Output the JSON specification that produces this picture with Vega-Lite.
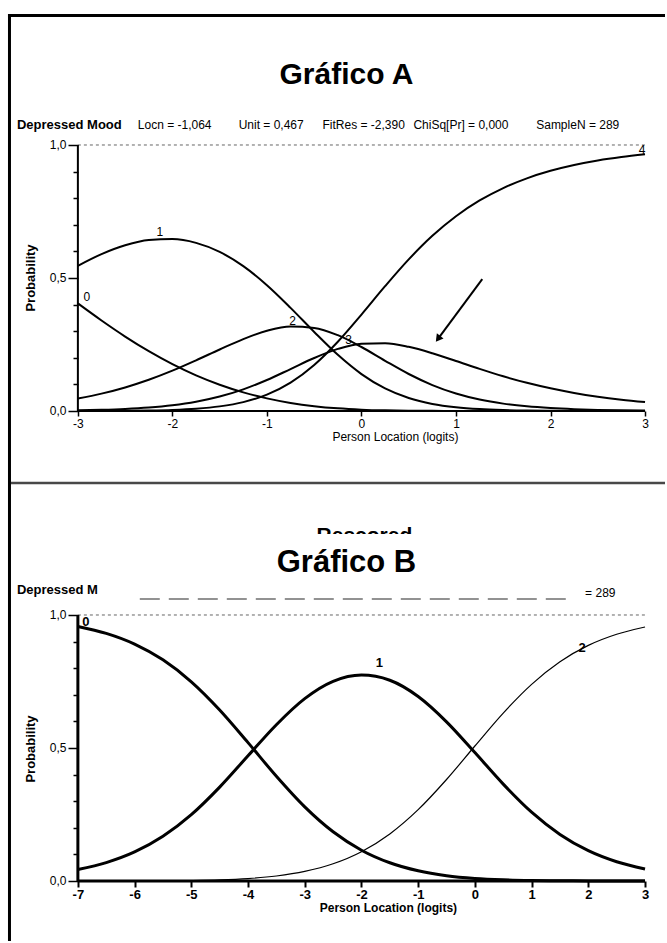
{
  "$schema": "https://vega.github.io/schema/vega-lite/v6.json",
  "width": 667,
  "height": 943,
  "autosize": {"type": "fit", "contains": "padding"},
  "padding": 0,
  "background": "white",
  "config": {
    "view": {"stroke": null},
    "text": {"font": "Liberation Sans", "color": "black"},
    "axis": {"labelFont": "Liberation Sans", "labelColor": "black", "tickColor": "black", "grid": false, "domain": false, "title": null, "labelOverlap": false, "labelFlush": false}
  },
  "datasets": {
    "curvesA": [
      {"x": -3.0, "c0": 0.4044, "c1": 0.5458, "c2": 0.0471, "c3": 0.0025, "c4": 0.0002},
      {"x": -2.75, "c0": 0.3402, "c1": 0.5897, "c2": 0.0653, "c3": 0.0044, "c4": 0.0004},
      {"x": -2.5, "c0": 0.2799, "c1": 0.6229, "c2": 0.0886, "c3": 0.0076, "c4": 0.0009},
      {"x": -2.25, "c0": 0.2249, "c1": 0.6427, "c2": 0.1174, "c3": 0.013, "c4": 0.002},
      {"x": -2.0, "c0": 0.1762, "c1": 0.6464, "c2": 0.1516, "c3": 0.0216, "c4": 0.0042},
      {"x": -1.75, "c0": 0.1341, "c1": 0.6321, "c2": 0.1904, "c3": 0.0348, "c4": 0.0087},
      {"x": -1.5, "c0": 0.0989, "c1": 0.5982, "c2": 0.2313, "c3": 0.0543, "c4": 0.0174},
      {"x": -1.25, "c0": 0.0701, "c1": 0.5446, "c2": 0.2704, "c3": 0.0815, "c4": 0.0334},
      {"x": -1.0, "c0": 0.0474, "c1": 0.4729, "c2": 0.3015, "c3": 0.1166, "c4": 0.0615},
      {"x": -0.75, "c0": 0.0303, "c1": 0.3878, "c2": 0.3175, "c3": 0.1577, "c4": 0.1067},
      {"x": -0.5, "c0": 0.0181, "c1": 0.2972, "c2": 0.3124, "c3": 0.1992, "c4": 0.1732},
      {"x": -0.25, "c0": 0.01, "c1": 0.2111, "c2": 0.285, "c3": 0.2334, "c4": 0.2605},
      {"x": 0.0, "c0": 0.0051, "c1": 0.1388, "c2": 0.2406, "c3": 0.2529, "c4": 0.3625},
      {"x": 0.25, "c0": 0.0024, "c1": 0.0848, "c2": 0.1888, "c3": 0.2549, "c4": 0.4691},
      {"x": 0.5, "c0": 0.0011, "c1": 0.0487, "c2": 0.1391, "c3": 0.2412, "c4": 0.5699},
      {"x": 0.75, "c0": 0.0005, "c1": 0.0266, "c2": 0.0975, "c3": 0.217, "c4": 0.6585},
      {"x": 1.0, "c0": 0.0002, "c1": 0.014, "c2": 0.0658, "c3": 0.1879, "c4": 0.7322},
      {"x": 1.25, "c0": 0.0001, "c1": 0.0071, "c2": 0.0431, "c3": 0.1582, "c4": 0.7915},
      {"x": 1.5, "c0": 0.0, "c1": 0.0036, "c2": 0.0277, "c3": 0.1305, "c4": 0.8382},
      {"x": 1.75, "c0": 0.0, "c1": 0.0018, "c2": 0.0175, "c3": 0.106, "c4": 0.8747},
      {"x": 2.0, "c0": 0.0, "c1": 0.0009, "c2": 0.011, "c3": 0.0853, "c4": 0.9029},
      {"x": 2.25, "c0": 0.0, "c1": 0.0004, "c2": 0.0068, "c3": 0.068, "c4": 0.9248},
      {"x": 2.5, "c0": 0.0, "c1": 0.0002, "c2": 0.0042, "c3": 0.0539, "c4": 0.9417},
      {"x": 2.75, "c0": 0.0, "c1": 0.0001, "c2": 0.0026, "c3": 0.0426, "c4": 0.9547},
      {"x": 3.0, "c0": 0.0, "c1": 0.0, "c2": 0.0016, "c3": 0.0335, "c4": 0.9649}
    ],
    "curvesB": [
      {"x": -7.0, "c0": 0.9569, "c1": 0.0431, "c2": 0.0},
      {"x": -6.5, "c0": 0.9308, "c1": 0.0691, "c2": 0.0001},
      {"x": -6.0, "c0": 0.8906, "c1": 0.1091, "c2": 0.0003},
      {"x": -5.5, "c0": 0.8314, "c1": 0.1679, "c2": 0.0007},
      {"x": -5.0, "c0": 0.7489, "c1": 0.2493, "c2": 0.0018},
      {"x": -4.5, "c0": 0.643, "c1": 0.3529, "c2": 0.0041},
      {"x": -4.0, "c0": 0.5202, "c1": 0.4707, "c2": 0.0091},
      {"x": -3.5, "c0": 0.3938, "c1": 0.5875, "c2": 0.0187},
      {"x": -3.0, "c0": 0.2787, "c1": 0.6854, "c2": 0.0359},
      {"x": -2.5, "c0": 0.185, "c1": 0.7503, "c2": 0.0647},
      {"x": -2.0, "c0": 0.1158, "c1": 0.7741, "c2": 0.1101},
      {"x": -1.5, "c0": 0.0685, "c1": 0.7546, "c2": 0.177},
      {"x": -1.0, "c0": 0.0382, "c1": 0.6936, "c2": 0.2682},
      {"x": -0.5, "c0": 0.02, "c1": 0.5984, "c2": 0.3816},
      {"x": 0.0, "c0": 0.0098, "c1": 0.4827, "c2": 0.5075},
      {"x": 0.5, "c0": 0.0045, "c1": 0.3642, "c2": 0.6313},
      {"x": 1.0, "c0": 0.0019, "c1": 0.2587, "c2": 0.7393},
      {"x": 1.5, "c0": 0.0008, "c1": 0.175, "c2": 0.8243},
      {"x": 2.0, "c0": 0.0003, "c1": 0.114, "c2": 0.8857},
      {"x": 2.5, "c0": 0.0001, "c1": 0.0724, "c2": 0.9275},
      {"x": 3.0, "c0": 0.0, "c1": 0.0452, "c2": 0.9548}
    ],
    "dashA": [{"x": -3, "y": 1, "x2": 3, "y2": 1}],
    "axisA": [{"x": -3, "y": 0, "x2": 3, "y2": 0}, {"x": -3, "y": 0, "x2": -3, "y2": 1}],
    "frame": [
      {"x": -3.7236, "y": 1.4925, "x2": -3.7236, "y2": -1.9925},
      {"x": -3.7394, "y": 1.4868, "x2": 3.2113, "y2": 1.4868}
    ],
    "sep": [{"x": -3.7077, "y": -0.2707, "x2": 3.2113, "y2": -0.2707}],
    "arrowA": [{"x": 1.278, "y": 0.496, "x2": 0.8176, "y2": 0.2752}],
    "headA": [{"x": 0.8176, "y": 0.2752}],
    "titleA": [{"x": -0.1584, "y": 1.2632, "label": "Gráfico A"}],
    "hdrBoldA": [{"x": -3.6444, "y": 1.0752, "label": "Depressed Mood"}],
    "hdrA": [
      {"x": -2.3662, "y": 1.0752, "label": "Locn = -1,064"},
      {"x": -1.2993, "y": 1.0752, "label": "Unit = 0,467"},
      {"x": -0.412, "y": 1.0752, "label": "FitRes = -2,390"},
      {"x": 0.5493, "y": 1.0752, "label": "ChiSq[Pr] = 0,000"},
      {"x": 1.8486, "y": 1.0752, "label": "SampleN = 289"}
    ],
    "labA": [
      {"x": -2.9049, "y": 0.4286, "label": "0"},
      {"x": -2.1338, "y": 0.6729, "label": "1"},
      {"x": -0.7289, "y": 0.3383, "label": "2"},
      {"x": -0.1373, "y": 0.2669, "label": "3"},
      {"x": 2.9683, "y": 0.9812, "label": "4"}
    ],
    "ytA": [{"x": -3.4965, "y": 0.5, "label": "Probability"}],
    "xtA": [{"x": 0.3592, "y": -0.0977, "label": "Person Location (logits)"}],
    "dashB": [{"x": -7, "y": 1, "x2": 3, "y2": 1}],
    "axisB": [{"x": -7, "y": 0, "x2": 3, "y2": 0}, {"x": -7, "y": 0, "x2": -7, "y2": 1}],
    "fragB": [{"x": -5.9085, "y": 1.0602, "x2": 1.6268, "y2": 1.0602}],
    "rescB": [{"x": -1.9472, "y": 1.2744, "label": "Rescored"}],
    "maskB": [{"x": -3.2676, "y": 1.3045, "x2": -0.6268, "y2": 1.2556}],
    "titleB": [{"x": -2.2641, "y": 1.1955, "label": "Gráfico B"}],
    "hdrBoldB": [{"x": -8.0739, "y": 1.094, "label": "Depressed M"}],
    "hdrB": [{"x": 1.9437, "y": 1.0827, "label": "= 289"}],
    "labB": [
      {"x": -6.8592, "y": 0.9737, "label": "0"},
      {"x": -1.683, "y": 0.8195, "label": "1"},
      {"x": 1.8908, "y": 0.8759, "label": "2"}
    ],
    "ytB": [{"x": -7.8275, "y": 0.4962, "label": "Probability"}],
    "xtB": [{"x": -1.5246, "y": -0.1015, "label": "Person Location (logits)"}]
  },
  "layer": [
    {
      "encoding": {
        "x": {"field": "x", "type": "quantitative",
          "scale": {"domain": [-3.8239, 3.2218], "nice": false, "zero": false},
          "axis": {"orient": "bottom", "offset": -532, "values": [-3, -2, -1, 0, 1, 2, 3], "tickSize": 5, "tickWidth": 1.5, "labelFontSize": 12, "labelPadding": 2,
            "labelExpr": "datum.value < 0 ? '-' + (-datum.value) : '' + datum.value"}},
        "y": {"field": "y", "type": "quantitative",
          "scale": {"domain": [-2.0, 1.5451], "nice": false, "zero": false},
          "axis": {"orient": "left", "offset": -78, "values": [0, 0.1, 0.2, 0.3, 0.4, 0.5, 0.6, 0.7, 0.8, 0.9, 1],
            "tickSize": {"condition": {"test": "datum.value == 0 || datum.value == 0.5 || datum.value == 1", "value": 10}, "value": 5},
            "tickWidth": 1.5, "labelFontSize": 12, "labelPadding": 2,
            "labelExpr": "datum.value == 0 ? '0,0' : (datum.value == 0.5 ? '0,5' : (datum.value == 1 ? '1,0' : ''))"}}
      },
      "layer": [
        {"data": {"name": "dashA"}, "mark": {"type": "rule", "color": "#666666", "strokeWidth": 1, "strokeDash": [3, 3]},
          "encoding": {"x2": {"field": "x2"}, "y2": {"field": "y2"}}},
        {"data": {"name": "curvesA"}, "transform": [{"fold": ["c0", "c1", "c2", "c3", "c4"], "as": ["cat", "y"]}],
          "mark": {"type": "line", "color": "black", "strokeWidth": 2, "interpolate": "monotone"},
          "encoding": {"detail": {"field": "cat"}}},
        {"data": {"name": "axisA"}, "mark": {"type": "rule", "color": "black", "strokeWidth": 2},
          "encoding": {"x2": {"field": "x2"}, "y2": {"field": "y2"}}},
        {"data": {"name": "frame"}, "mark": {"type": "rule", "color": "black", "strokeWidth": 3},
          "encoding": {"x2": {"field": "x2"}, "y2": {"field": "y2"}}},
        {"data": {"name": "sep"}, "mark": {"type": "rule", "color": "#484848", "strokeWidth": 2.5},
          "encoding": {"x2": {"field": "x2"}, "y2": {"field": "y2"}}},
        {"data": {"name": "arrowA"}, "mark": {"type": "rule", "color": "black", "strokeWidth": 2},
          "encoding": {"x2": {"field": "x2"}, "y2": {"field": "y2"}}},
        {"data": {"name": "headA"}, "mark": {"type": "point", "shape": "triangle", "filled": true, "color": "black", "opacity": 1, "size": 70, "angle": 217}},
        {"data": {"name": "titleA"}, "mark": {"type": "text", "fontSize": 30, "fontWeight": "bold", "align": "center", "baseline": "middle"},
          "encoding": {"text": {"field": "label"}}},
        {"data": {"name": "hdrBoldA"}, "mark": {"type": "text", "fontSize": 13, "fontWeight": "bold", "align": "left", "baseline": "middle"},
          "encoding": {"text": {"field": "label"}}},
        {"data": {"name": "hdrA"}, "mark": {"type": "text", "fontSize": 12, "align": "left", "baseline": "middle"},
          "encoding": {"text": {"field": "label"}}},
        {"data": {"name": "labA"}, "mark": {"type": "text", "fontSize": 12, "align": "center", "baseline": "middle"},
          "encoding": {"text": {"field": "label"}}},
        {"data": {"name": "ytA"}, "mark": {"type": "text", "fontSize": 13, "fontWeight": "bold", "align": "center", "baseline": "middle", "angle": 270},
          "encoding": {"text": {"field": "label"}}},
        {"data": {"name": "xtA"}, "mark": {"type": "text", "fontSize": 12, "align": "center", "baseline": "middle"},
          "encoding": {"text": {"field": "label"}}}
      ]
    },
    {
      "encoding": {
        "x": {"field": "x", "type": "quantitative",
          "scale": {"domain": [-8.3732, 3.3697], "nice": false, "zero": false},
          "axis": {"orient": "bottom", "offset": -62, "values": [-7, -6, -5, -4, -3, -2, -1, 0, 1, 2, 3], "tickSize": 6, "tickWidth": 2, "labelFontSize": 13, "labelFontWeight": "bold", "labelPadding": 1,
            "labelExpr": "datum.value < 0 ? '-' + (-datum.value) : '' + datum.value"}},
        "y": {"field": "y", "type": "quantitative",
          "scale": {"domain": [-0.2331, 3.312], "nice": false, "zero": false},
          "axis": {"orient": "left", "offset": -78, "values": [0, 0.1, 0.2, 0.3, 0.4, 0.5, 0.6, 0.7, 0.8, 0.9, 1],
            "tickSize": {"condition": {"test": "datum.value == 0 || datum.value == 0.5 || datum.value == 1", "value": 10}, "value": 5},
            "tickWidth": 1.5, "labelFontSize": 12, "labelPadding": 2,
            "labelExpr": "datum.value == 0 ? '0,0' : (datum.value == 0.5 ? '0,5' : (datum.value == 1 ? '1,0' : ''))"}}
      },
      "layer": [
        {"data": {"name": "dashB"}, "mark": {"type": "rule", "color": "#666666", "strokeWidth": 1, "strokeDash": [3, 3]},
          "encoding": {"x2": {"field": "x2"}, "y2": {"field": "y2"}}},
        {"data": {"name": "curvesB"}, "transform": [{"fold": ["c0", "c1"], "as": ["cat", "y"]}],
          "mark": {"type": "line", "color": "black", "strokeWidth": 3, "interpolate": "monotone"},
          "encoding": {"detail": {"field": "cat"}}},
        {"data": {"name": "curvesB"}, "transform": [{"fold": ["c2"], "as": ["cat", "y"]}],
          "mark": {"type": "line", "color": "black", "strokeWidth": 1.2, "interpolate": "monotone"},
          "encoding": {"detail": {"field": "cat"}}},
        {"data": {"name": "axisB"}, "mark": {"type": "rule", "color": "black", "strokeWidth": 3},
          "encoding": {"x2": {"field": "x2"}, "y2": {"field": "y2"}}},
        {"data": {"name": "fragB"}, "mark": {"type": "rule", "color": "#6f6f6f", "strokeWidth": 1.5, "strokeDash": [20, 9]},
          "encoding": {"x2": {"field": "x2"}, "y2": {"field": "y2"}}},
        {"data": {"name": "rescB"}, "mark": {"type": "text", "fontSize": 21, "fontWeight": "bold", "align": "center", "baseline": "alphabetic"},
          "encoding": {"text": {"field": "label"}}},
        {"data": {"name": "maskB"}, "mark": {"type": "rect", "color": "white", "opacity": 1},
          "encoding": {"x2": {"field": "x2"}, "y2": {"field": "y2"}}},
        {"data": {"name": "titleB"}, "mark": {"type": "text", "fontSize": 31, "fontWeight": "bold", "align": "center", "baseline": "middle"},
          "encoding": {"text": {"field": "label"}}},
        {"data": {"name": "hdrBoldB"}, "mark": {"type": "text", "fontSize": 13, "fontWeight": "bold", "align": "left", "baseline": "middle"},
          "encoding": {"text": {"field": "label"}}},
        {"data": {"name": "hdrB"}, "mark": {"type": "text", "fontSize": 12, "align": "left", "baseline": "middle"},
          "encoding": {"text": {"field": "label"}}},
        {"data": {"name": "labB"}, "mark": {"type": "text", "fontSize": 13, "fontWeight": "bold", "align": "center", "baseline": "middle"},
          "encoding": {"text": {"field": "label"}}},
        {"data": {"name": "ytB"}, "mark": {"type": "text", "fontSize": 13, "fontWeight": "bold", "align": "center", "baseline": "middle", "angle": 270},
          "encoding": {"text": {"field": "label"}}},
        {"data": {"name": "xtB"}, "mark": {"type": "text", "fontSize": 12, "fontWeight": "bold", "align": "center", "baseline": "middle"},
          "encoding": {"text": {"field": "label"}}}
      ]
    }
  ],
  "resolve": {"scale": {"x": "independent", "y": "independent"}, "axis": {"x": "independent", "y": "independent"}}
}
